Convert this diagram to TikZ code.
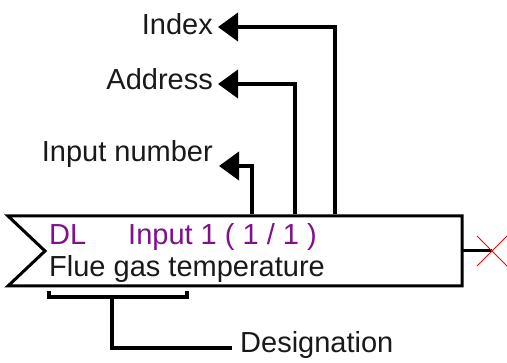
\documentclass[tikz,border=0pt]{standalone}
\usepackage{fontspec}
\setmainfont{Liberation Sans}
\usetikzlibrary{arrows.meta}
\definecolor{dlpurple}{RGB}{128,16,140}
\definecolor{txt}{RGB}{25,25,25}
\begin{document}
\begin{tikzpicture}[x=1pt,y=-1pt,
  lbl/.style={font=\fontsize{29}{34}\selectfont, inner sep=0pt, text=txt},
  inbox/.style={lbl},
  boxline/.style={line width=3pt},
  ptr/.style={line width=4pt, -{Triangle[length=20pt,width=28pt]}},
  brk/.style={line width=3.5pt},
]
\useasboundingbox (0,0) rectangle (507,363);
% block
\coordinate (btl) at (8,216);
\coordinate (btr) at (462,216);
\coordinate (bbr) at (462,286);
\coordinate (bbl) at (8,286);
\coordinate (notch) at (45,251);
\draw[boxline, line join=miter] (btl) -- (btr) -- (bbr) -- (bbl) -- (notch) -- cycle;
\node[inbox, text=dlpurple, anchor=base west] (dl) at (49,245) {DL};
\node[inbox, text=dlpurple, anchor=base west] (inp) at (128,245) {Input 1 ( 1 / 1 )};
\node[inbox, anchor=base west] (flue) at (49,277) {Flue gas temperature};
% output with red cross
\coordinate (outa) at (462,251);
\coordinate (xc) at (492,251);
\draw[boxline] (outa) -- (xc);
\draw[red, line width=0.9pt] (477,236) -- (507,266) (477,266) -- (507,236);
% labels
\node[lbl, anchor=base east] (idx) at (213,35) {Index};
\node[lbl, anchor=base east] (addr) at (213,90) {Address};
\node[lbl, anchor=base east] (inum) at (213,162) {Input number};
\node[lbl, anchor=base west] (desig) at (240,353) {Designation};
% pointer arrows
\coordinate (pidx) at (335,214);
\coordinate (paddr) at (295,214);
\coordinate (pinum) at (252,214);
\coordinate (tidx) at (218,27);
\coordinate (taddr) at (218,84);
\coordinate (tinum) at (219,166);
\draw[ptr] (pidx) |- (tidx);
\draw[ptr] (paddr) |- (taddr);
\draw[ptr] (pinum) |- (tinum);
% designation bracket
\coordinate (bl) at (49,291);
\coordinate (br) at (187,291);
\coordinate (bm) at (112,297);
\coordinate (dend) at (232,348);
\draw[brk] (bl) -- (49,297) -- (187,297) -- (br);
\draw[line width=4pt] (bm) |- (dend);
\end{tikzpicture}
\end{document}
